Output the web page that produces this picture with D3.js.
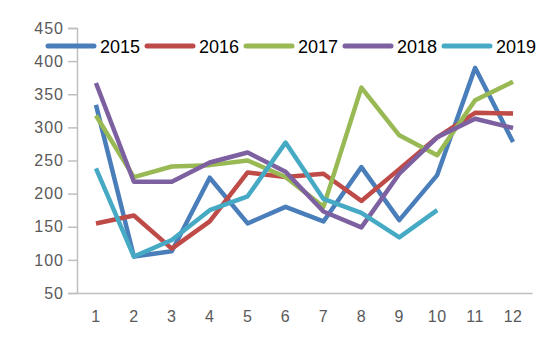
<!DOCTYPE html>
<html><head><meta charset="utf-8">
<script src="https://cdn.jsdelivr.net/npm/d3@7/dist/d3.min.js"></script>
<style>body{margin:0;background:#fff}svg{display:block}</style>
</head><body>
<svg id="c" width="550" height="348"></svg>
<script>
const categories = [1,2,3,4,5,6,7,8,9,10,11,12];
const yTicks = [50,100,150,200,250,300,350,400,450];
const seriesNames = ["2015","2016","2017","2018","2019"];
const s2015 = [334,105,113,224,155,180,158,240,160,228,390,278];
const s2016 = [155,167,117,158,232,225,230,189,237,285,322,321];
const s2017 = [318,225,241,243,250,225,180,360,288,258,341,369];
const s2018 = [367,218,218,247,262,233,173,149,230,285,313,299];
const s2019 = [238,105,130,175,196,277,192,171,134,175];
const seriesValues = [s2015,s2016,s2017,s2018,s2019];
const colors = ["#4a7ebb","#be4b48","#98b954","#7d60a0","#46aac5"];

const svg = d3.select("#c");
const x = d3.scaleBand().domain(categories).range([77,532]);
const y = d3.scaleLinear().domain([50,450]).range([293,28]);
const font = "'Liberation Sans', Arial, sans-serif";

// y axis
const ya = svg.append("g").attr("transform","translate(77,0)")
  .call(d3.axisLeft(y).tickValues(yTicks).tickSize(9).tickPadding(4));
ya.select(".domain").attr("stroke","#bfbfbf").attr("stroke-width",1.5);
ya.selectAll(".tick line").attr("stroke","#bfbfbf").attr("stroke-width",1.5);
ya.selectAll("text").attr("fill","#595959").style("font-family",font)
  .style("font-size","16px").style("letter-spacing","1px");

// x axis
const xa = svg.append("g").attr("transform","translate(0,293)")
  .call(d3.axisBottom(x).tickSize(0).tickPadding(18).tickSizeOuter(0));
xa.select(".domain").attr("stroke","#bfbfbf").attr("stroke-width",1.5);
xa.selectAll("text").attr("fill","#595959").style("font-family",font)
  .style("font-size","16px").style("letter-spacing","0.5px");

const line = d3.line().x((d,i)=>x(categories[i])+x.bandwidth()/2).y(d=>y(d));
seriesValues.forEach((vals,k)=>{
  svg.append("path").datum(vals).attr("d",line)
    .attr("fill","none").attr("stroke",colors[k]).attr("stroke-width",4.5)
    .attr("stroke-linejoin","round").attr("stroke-linecap","butt");
});

// legend
const lg = svg.append("g");
seriesNames.forEach((n,k)=>{
  const x0 = 48 + k*99;
  lg.append("line").attr("x1",x0).attr("x2",x0+46).attr("y1",46).attr("y2",46)
    .attr("stroke",colors[k]).attr("stroke-width",5).attr("stroke-linecap","round");
  lg.append("text").attr("x",x0+52).attr("y",52.5).text(n)
    .attr("fill","#000").style("font-family",font).style("font-size","18px");
});
</script>
</body></html>
